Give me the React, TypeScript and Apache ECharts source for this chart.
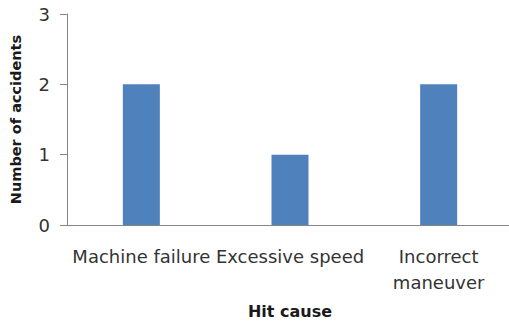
import React, { useEffect, useRef } from "react";
import * as echarts from "echarts";

const categories = ["Machine failure", "Excessive speed", "Incorrect\nmaneuver"];
const accidents = [2, 1, 2];
const yTicks = { min: 0, max: 3, interval: 1 };

export default function App() {
  const ref = useRef<HTMLDivElement>(null);
  useEffect(() => {
    document.body.style.margin = "0";
    if (!ref.current) return;
    const chart = echarts.init(ref.current, undefined, { renderer: "svg" });
    chart.setOption({
      animation: false,
      backgroundColor: "#ffffff",
      grid: {
        left: 67,
        right: -4,
        top: 14,
        bottom: 99,
        containLabel: false,
        outerBoundsMode: "none",
      },
      xAxis: {
        type: "category",
        data: categories,
        name: "Hit cause",
        nameLocation: "middle",
        nameGap: 78,
        nameTextStyle: { fontFamily: "DejaVu Sans", fontWeight: "bold", fontSize: 16, color: "#1a1a1a" },
        axisLine: { lineStyle: { color: "#868686", width: 1 } },
        axisTick: { show: false },
        axisLabel: {
          interval: 0,
          margin: 18,
          fontFamily: "DejaVu Sans",
          fontSize: 18,
          lineHeight: 26,
          color: "#333333",
        },
      },
      yAxis: {
        type: "value",
        min: yTicks.min,
        max: yTicks.max,
        interval: yTicks.interval,
        name: "Number of accidents",
        nameLocation: "middle",
        nameGap: 44,
        nameRotate: 90,
        nameTextStyle: { fontFamily: "DejaVu Sans", fontWeight: "bold", fontSize: 14.5, color: "#1a1a1a" },
        axisLine: { show: true, lineStyle: { color: "#868686", width: 1 } },
        axisTick: { show: true, length: 7, lineStyle: { color: "#868686" } },
        splitLine: { show: false },
        axisLabel: { margin: 17, fontFamily: "DejaVu Sans", fontSize: 18, color: "#333333" },
      },
      series: [
        {
          type: "bar",
          data: accidents,
          barWidth: 37,
          itemStyle: { color: "#4f81bd" },
        },
      ],
    });
    return () => chart.dispose();
  }, []);
  return (
    <div
      ref={ref}
      style={{ position: "absolute", left: 0, top: 0, width: 509, height: 324, background: "#fff" }}
    />
  );
}
